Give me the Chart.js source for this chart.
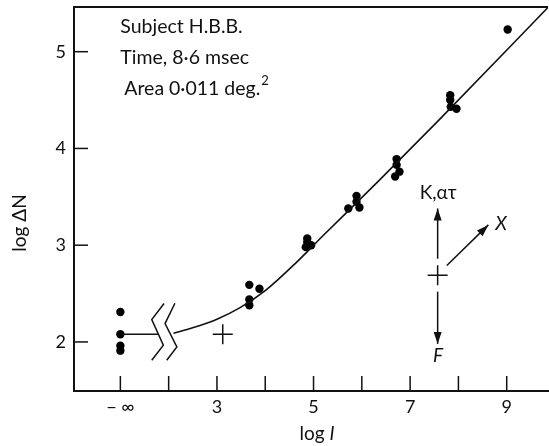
<!DOCTYPE html>
<html>
<head>
<meta charset="utf-8">
<script src="https://cdn.jsdelivr.net/npm/chart.js@4/dist/chart.umd.min.js"></script>
<style>
  html, body { margin: 0; padding: 0; background: #fff; }
  #caixa { width: 549px; height: 446px; }
</style>
</head>
<body>
<div id="caixa"><canvas id="grafico"></canvas></div>
<script>
// pontos medidos (log I, log ΔN)
var pontosX = [1, 1, 1, 1, 3.67, 3.88, 3.67, 3.67, 4.87, 4.87, 4.84, 4.95, 5.72, 5.89, 5.89, 5.95, 6.72, 6.72, 6.78, 6.69, 7.83, 7.83, 7.84, 7.96, 9.02];
var pontosY = [2.31, 2.08, 1.96, 1.91, 2.59, 2.55, 2.44, 2.38, 3.07, 3.03, 2.98, 3.00, 3.38, 3.51, 3.45, 3.39, 3.89, 3.83, 3.76, 3.71, 4.55, 4.50, 4.43, 4.41, 5.23];

// curva ajustada
var curvaX = [2.10, 2.65, 3.00, 3.48, 4.00, 4.62, 5.20, 6.38, 7.59, 9.86];
var curvaY = [2.09, 2.17, 2.235, 2.355, 2.53, 2.81, 3.10, 3.68, 4.29, 5.46];

// linha horizontal em -∞
var linhaInfX = [1, 1.78];
var linhaInfY = [2.08, 2.08];

// quebra do eixo (dois zigue-zagues)
var quebra1X = [1.905, 1.65, 1.89, 1.65];
var quebra1Y = [2.397, 2.232, 1.966, 1.811];
var quebra2X = [2.13, 1.925, 2.17, 1.96];
var quebra2Y = [2.40, 2.19, 1.948, 1.811];

// cruzes
var cruzesX = [3.12, 7.57];
var cruzesY = [2.08, 2.69];

// setas [x0, y0, x1, y1]
var setas = [
  [7.57, 2.86, 7.57, 3.38],
  [7.57, 2.52, 7.57, 1.98],
  [7.76, 2.79, 8.62, 3.21]
];
var rotulosSetas = ["K,ατ", "F", "X"];
var rotulosSetasX = [7.58, 7.58, 8.88];
var rotulosSetasY = [3.54, 1.86, 3.22];

// textos do canto
var textos = ["Subject H.B.B.", "Time, 8·6 msec", "Area 0·011 deg."];
var textosX = [1.0, 1.0, 1.08];
var textosY = [5.254, 4.934, 4.613];

// eixos
var ticksX = [1, 2, 3, 4, 5, 6, 7, 8, 9];
var rotulosX = { 1: "− ∞", 3: "3", 5: "5", 7: "7", 9: "9" };
var ticksY = [2, 3, 4, 5];

function juntar(xs, ys) {
  return xs.map(function(x, i) { return { x: x, y: ys[i] }; });
}

var fonte = "Lato, 'DejaVu Sans', sans-serif";

// tira o espaço extra que o chart.js reserva para os rótulos das pontas
function semPadding(scale) {
  scale.paddingTop = 0;
  scale.paddingBottom = 0;
  scale.paddingLeft = 0;
  scale.paddingRight = 0;
}

// desenha ticks internos, borda de cima, setas e textos
var desenho = {
  id: "desenho",
  afterDraw: function(chart) {
    var ctx = chart.ctx;
    var sx = chart.scales.x;
    var sy = chart.scales.y;
    var area = chart.chartArea;

    function linha(x0, y0, x1, y1) {
      ctx.beginPath();
      ctx.moveTo(x0, y0);
      ctx.lineTo(x1, y1);
      ctx.stroke();
    }

    ctx.save();
    ctx.strokeStyle = "#111";
    ctx.fillStyle = "#111";
    ctx.lineWidth = 1.5;

    ticksX.forEach(function(v) {
      var px = sx.getPixelForValue(v);
      linha(px, area.bottom, px, area.bottom - 15);
    });
    ticksY.forEach(function(v) {
      var py = sy.getPixelForValue(v);
      linha(area.left, py, area.left + 14, py);
    });

    // borda de cima
    ctx.lineWidth = 2;
    linha(area.left, area.top, area.right, area.top);

    // setas
    ctx.lineWidth = 1.5;
    setas.forEach(function(s) {
      var x0 = sx.getPixelForValue(s[0]), y0 = sy.getPixelForValue(s[1]);
      var x1 = sx.getPixelForValue(s[2]), y1 = sy.getPixelForValue(s[3]);
      linha(x0, y0, x1, y1);
      var ang = Math.atan2(y1 - y0, x1 - x0);
      ctx.beginPath();
      ctx.moveTo(x1, y1);
      ctx.lineTo(x1 - 12 * Math.cos(ang) + 4 * Math.sin(ang), y1 - 12 * Math.sin(ang) - 4 * Math.cos(ang));
      ctx.lineTo(x1 - 12 * Math.cos(ang) - 4 * Math.sin(ang), y1 - 12 * Math.sin(ang) + 4 * Math.cos(ang));
      ctx.closePath();
      ctx.fill();
    });

    ctx.textAlign = "center";
    ctx.textBaseline = "middle";
    rotulosSetas.forEach(function(t, i) {
      ctx.font = (i === 0 ? "" : "italic ") + "19px " + fonte;
      ctx.fillText(t, sx.getPixelForValue(rotulosSetasX[i]), sy.getPixelForValue(rotulosSetasY[i]));
    });

    // textos do canto
    ctx.textAlign = "left";
    ctx.font = "19.5px " + fonte;
    textos.forEach(function(t, i) {
      ctx.fillText(t, sx.getPixelForValue(textosX[i]), sy.getPixelForValue(textosY[i]));
    });
    // expoente do deg.
    var ult = textos.length - 1;
    var wUlt = ctx.measureText(textos[ult]).width;
    ctx.font = "13px " + fonte;
    ctx.fillText("2", sx.getPixelForValue(textosX[ult]) + wUlt + 1, sy.getPixelForValue(textosY[ult]) - 8);

    // títulos dos eixos
    ctx.font = "19px " + fonte;
    var w1 = ctx.measureText("log ").width;
    ctx.font = "italic 19px " + fonte;
    var w2 = ctx.measureText("I").width;
    var xi = 317 - (w1 + w2) / 2;
    ctx.font = "19px " + fonte;
    ctx.fillText("log ", xi, 434);
    ctx.font = "italic 19px " + fonte;
    ctx.fillText("I", xi + w1, 434);

    ctx.font = "19px " + fonte;
    ctx.translate(20, 223);
    ctx.rotate(-Math.PI / 2);
    ctx.textAlign = "center";
    ctx.fillText("log ΔN", 0, 0);

    ctx.restore();
  }
};

var ctx = document.getElementById("grafico").getContext("2d");

var grafico = new Chart(ctx, {
  type: "scatter",
  data: {
    datasets: [
      {
        label: "curva",
        data: juntar(curvaX, curvaY),
        showLine: true,
        borderColor: "#111",
        borderWidth: 1.6,
        pointRadius: 0,
        cubicInterpolationMode: "monotone"
      },
      {
        label: "-inf",
        data: juntar(linhaInfX, linhaInfY),
        showLine: true,
        borderColor: "#111",
        borderWidth: 1.4,
        pointRadius: 0
      },
      {
        label: "quebra1",
        data: juntar(quebra1X, quebra1Y),
        showLine: true,
        borderColor: "#111",
        borderWidth: 1.5,
        pointRadius: 0
      },
      {
        label: "quebra2",
        data: juntar(quebra2X, quebra2Y),
        showLine: true,
        borderColor: "#111",
        borderWidth: 1.5,
        pointRadius: 0
      },
      {
        label: "pontos",
        data: juntar(pontosX, pontosY),
        backgroundColor: "#000",
        borderColor: "#000",
        pointRadius: 4.2,
        borderWidth: 0
      },
      {
        label: "cruzes",
        data: juntar(cruzesX, cruzesY),
        pointStyle: "cross",
        pointRadius: 10,
        borderColor: "#111",
        borderWidth: 1.5
      }
    ]
  },
  options: {
    responsive: true,
    maintainAspectRatio: false,
    animation: false,
    layout: { autoPadding: false, padding: { top: 7, right: 1, left: 0, bottom: 0 } },
    plugins: {
      legend: { display: false },
      tooltip: { enabled: false }
    },
    scales: {
      x: {
        type: "linear",
        min: 0.04,
        max: 9.855,
        afterBuildTicks: function(scale) {
          scale.ticks = ticksX.map(function(v) { return { value: v }; });
        },
        afterFit: function(scale) { scale.height = 55; semPadding(scale); },
        ticks: {
          color: "#111",
          font: { family: fonte, size: 18 },
          padding: 5,
          autoSkip: false,
          maxRotation: 0,
          callback: function(v) { return rotulosX[v] || ""; }
        },
        grid: { drawOnChartArea: false, drawTicks: false },
        border: { display: true, color: "#111", width: 2 }
      },
      y: {
        type: "linear",
        min: 1.493,
        max: 5.462,
        afterBuildTicks: function(scale) {
          scale.ticks = ticksY.map(function(v) { return { value: v }; });
        },
        afterFit: function(scale) { scale.width = 74; semPadding(scale); },
        ticks: {
          color: "#111",
          font: { family: fonte, size: 18 },
          padding: 8,
          callback: function(v) { return String(v); }
        },
        grid: { drawOnChartArea: false, drawTicks: false },
        border: { display: true, color: "#111", width: 2 }
      }
    }
  },
  plugins: [desenho]
});
</script>
</body>
</html>
